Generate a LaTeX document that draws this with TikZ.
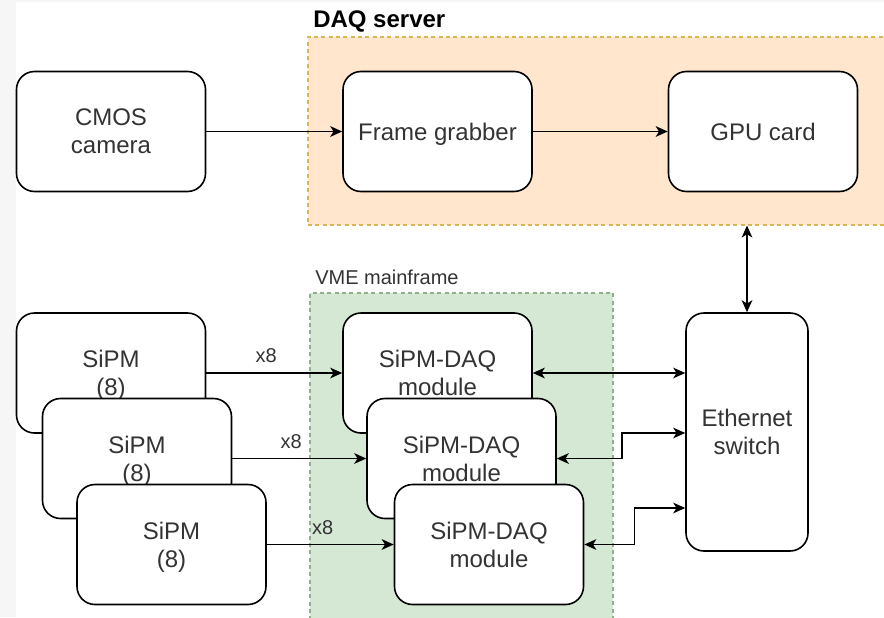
\documentclass[tikz,border=0pt]{standalone}
\usepackage{fontspec}
\setmainfont{Liberation Sans}
\usetikzlibrary{arrows.meta,calc}
\definecolor{daqfill}{HTML}{FFE6CC}
\definecolor{daqline}{HTML}{D6B656}
\definecolor{vmefill}{HTML}{D5E8D4}
\definecolor{vmeline}{HTML}{8FB08A}
\definecolor{txt}{HTML}{333333}
\definecolor{strip}{HTML}{F6F6F6}
\begin{document}
\begin{tikzpicture}[x=0.75pt,y=-0.75pt,
  box/.style={draw=black, line width=1.2pt, fill=white, rounded corners=13.5pt,
    minimum width=141.75pt, minimum height=90pt, align=center, text=txt,
    font=\fontsize{18}{21}\selectfont, inner sep=0pt, text depth=0pt},
  container/.style={line width=0.8pt, dash pattern=on 3pt off 2.5pt, inner sep=0pt},
  tip/.tip={Stealth[length=9pt,width=8pt,inset=2.5pt]},
  arr/.style={line width=1.2pt, -tip},
  both/.style={line width=1.2pt, tip-tip},
  mult/.style={font=\fontsize{15}{17}\selectfont, text=txt, inner sep=0pt, pos=0.44, above=7pt}
]
\clip (0,0) rectangle (884,617);
\fill[white] (0,0) rectangle (884,617);
\fill[strip] (0,0) rectangle (16,617);
\fill[strip] (0,0) rectangle (884,2);

% containers
\node[container, draw=daqline, fill=daqfill, minimum width=436.5pt, minimum height=141pt] (daq) at (599,131) {};
\node[container, draw=vmeline, fill=vmefill, minimum width=227.25pt, minimum height=249pt] (vme) at (461.5,459) {};
\node[anchor=base west, font=\bfseries\fontsize{18}{20}\selectfont, text=black, inner sep=0pt] (daqlabel) at (313,28) {DAQ server};
\node[anchor=base west, font=\fontsize{15}{17}\selectfont, text=txt, inner sep=0pt] (vmelabel) at (315,284) {VME mainframe};

% top row
\node[box] (cmos) at (111,131.5) {CMOS\\camera};
\node[box] (fg) at (437.5,131.5) {Frame grabber};
\node[box] (gpu) at (763,131.5) {GPU card};

% SiPMs
\node[box] (sipm1) at (111,373) {SiPM\\(8)};
\node[box] (sipm2) at (137,458.5) {SiPM\\(8)};
\node[box] (sipm3) at (171.5,544.5) {SiPM\\(8)};

% modules
\node[box] (mod1) at (437.5,373) {SiPM-DAQ\\module};
\node[box] (mod2) at (461.5,458.5) {SiPM-DAQ\\module};
\node[box] (mod3) at (489,544.5) {SiPM-DAQ\\module};

% ethernet switch
\node[box, minimum width=91.5pt, minimum height=178.5pt] (eth) at (747,432) {Ethernet\\switch};

% connectors
\draw[arr] (cmos.east) -- (fg.west);
\draw[arr] (fg.east) -- (gpu.west);
\draw[both] (eth.north |- daq.south) -- (eth.north);

\draw[arr] (sipm1.east) -- node[mult] (x8a) {x8} (sipm1.east -| mod1.west);
\draw[arr] (sipm2.east) -- node[mult] (x8b) {x8} (sipm2.east -| mod2.west);
\draw[arr] (sipm3.east) -- node[mult] (x8c) {x8} (sipm3.east -| mod3.west);

\draw[both] (mod1.east) -- (mod1.east -| eth.west);
\draw[both] (mod2.east) -- ++(65,0) |- ($(eth.west)+(0,1)$);
\draw[both] (mod3.east) -- ++(50,0) |- ($(eth.west)+(0,76)$);
\end{tikzpicture}
\end{document}
